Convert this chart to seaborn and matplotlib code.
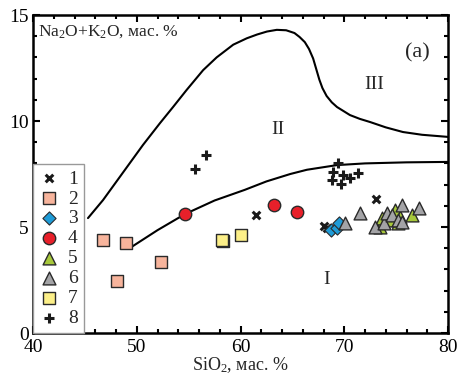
import matplotlib
matplotlib.use("Agg")
import matplotlib.pyplot as plt
import matplotlib.transforms as mtransforms
import seaborn as sns
import numpy as np
from matplotlib.ticker import MultipleLocator

# ---------------- data ----------------
s1_x = [61.5, 73.1, 68.3, 68.0]
s1_y = [5.57, 6.30, 4.95, 5.05]
s2_x = [46.75, 48.96, 48.1, 52.3]
s2_y = [4.39, 4.25, 2.45, 3.35]
s3_x = [68.7, 69.3, 69.5]
s3_y = [4.86, 4.95, 5.19]
s4_x = [54.65, 63.2, 65.45]
s4_y = [5.61, 6.04, 5.70]
s5_x = [73.4, 73.6, 74.9, 75.4, 75.2, 76.5, 74.4]
s5_y = [5.00, 5.42, 5.80, 5.47, 5.19, 5.57, 5.35]
s6_x = [70.1, 71.5, 73.0, 73.8, 74.1, 74.6, 75.2, 75.6, 75.6, 77.2]
s6_y = [5.19, 5.64, 5.00, 5.19, 5.64, 5.57, 5.33, 5.24, 6.04, 5.90]
s7_x = [58.3, 58.2, 60.05]
s7_y = [4.36, 4.39, 4.62]
s8_x = [55.6, 56.7, 69.4, 68.9, 69.9, 71.3, 68.8, 70.6, 69.7]
s8_y = [7.74, 8.40, 8.00, 7.60, 7.45, 7.55, 7.20, 7.30, 7.03]

upper_x = [45.3, 46.75, 49.06, 50.6, 52.24, 53.5, 54.8, 56.4, 57.7, 59.3, 60.6,
           61.6, 62.55, 63.5, 64.4, 65.2, 65.7, 66.2, 66.6, 67.0, 67.3, 67.6,
           67.9, 68.3, 68.8, 69.3, 70.55, 71.5, 72.5, 74.0, 75.66, 77.5, 80.0]
upper_y = [5.42, 6.27, 7.83, 8.87, 9.90, 10.66, 11.46, 12.40, 13.00, 13.60, 13.90,
           14.08, 14.22, 14.30, 14.28, 14.15, 13.96, 13.72, 13.40, 12.95, 12.45, 11.95,
           11.55, 11.18, 10.88, 10.66, 10.28, 10.10, 9.95, 9.70, 9.48, 9.35, 9.25]
lower_x = [49.5, 52.0, 54.65, 57.5, 60.4, 62.5, 64.8, 66.4, 69.3, 72.0, 76.0, 80.0]
lower_y = [4.06, 4.85, 5.61, 6.25, 6.75, 7.15, 7.50, 7.70, 7.92, 8.00, 8.05, 8.07]

legend_labels = ["1", "2", "3", "4", "5", "6", "7", "8"]
field_labels = ["I", "II", "III"]
field_x = [68.3, 63.6, 72.9]
field_y = [2.5, 9.6, 11.7]

# ---------------- style ----------------
sns.set_style("ticks")
plt.rcParams["font.family"] = ["Liberation Serif", "DejaVu Serif"]
plt.rcParams["mathtext.fontset"] = "custom"
plt.rcParams["mathtext.rm"] = "Liberation Serif"
plt.rcParams["mathtext.it"] = "Liberation Serif:italic"

fig = plt.figure(figsize=(4.58, 3.82), dpi=100)
ax = fig.add_axes([33/458, 1-333/382, 415/458, 318/382])

edge = "#2a2a2a"
for cx, cy in ((upper_x, upper_y), (lower_x, lower_y)):
    sns.lineplot(x=cx, y=cy, sort=False, estimator=None, color="black", lw=1.5, ax=ax,
                 solid_joinstyle="round", solid_capstyle="round")

common = dict(ax=ax, zorder=3)
sns.scatterplot(x=s1_x, y=s1_y, marker="x", s=30, color="#1a1a1a", linewidth=2.2, label=legend_labels[0], **common)
sns.scatterplot(x=s2_x, y=s2_y, marker="s", s=70, color="#F7B49C", edgecolor=edge, linewidth=1.0, label=legend_labels[1], **common)
sns.scatterplot(x=s3_x, y=s3_y, marker="D", s=45, color="#1E9BD7", edgecolor=edge, linewidth=0.8, label=legend_labels[2], **common)
sns.scatterplot(x=s4_x, y=s4_y, marker="o", s=80, color="#E8202A", edgecolor=edge, linewidth=1.0, label=legend_labels[3], **common)
sns.scatterplot(x=s5_x, y=s5_y, marker="^", s=85, color="#A7C83B", edgecolor=edge, linewidth=1.0, label=legend_labels[4], **common)
sns.scatterplot(x=s6_x, y=s6_y, marker="^", s=85, color="#A3A3A6", edgecolor=edge, linewidth=1.0, label=legend_labels[5], **common)
sns.scatterplot(x=s7_x, y=s7_y, marker="s", s=70, color="#FCEF88", edgecolor=edge, linewidth=1.0, label=legend_labels[6], **common)
sns.scatterplot(x=s8_x, y=s8_y, marker="+", s=55, color="#1a1a1a", linewidth=2.2, label=legend_labels[7], **common)

ax.set_xlim(40, 80)
ax.set_ylim(0, 15)
ax.xaxis.set_major_locator(MultipleLocator(10))
ax.xaxis.set_minor_locator(MultipleLocator(2))
ax.yaxis.set_major_locator(MultipleLocator(5))
ax.yaxis.set_minor_locator(MultipleLocator(1))
ax.tick_params(which="both", direction="in", top=True, right=True, width=1.5, colors="black", labelsize=14)
ax.tick_params(which="major", length=5)
ax.tick_params(which="minor", length=3)
ax.tick_params(axis="x", which="major", pad=4)
ax.tick_params(axis="y", which="major", pad=3)
for sp in ax.spines.values():
    sp.set_linewidth(1.8)
    sp.set_color("black")

ax.set_xlabel("SiO$_2$, мас. %", fontsize=13, labelpad=0)
ax.set_ylabel("")

ax.text(0.012, 0.975, "Na$_2$O+K$_2$O, мас. %", transform=ax.transAxes, fontsize=12.5, va="top", ha="left")
ax.text(0.955, 0.88, "(a)", transform=ax.transAxes, fontsize=16, va="center", ha="right")
for lab, fx, fy in zip(field_labels, field_x, field_y):
    ax.text(fx, fy, lab, fontsize=14, ha="center", va="center")

leg = ax.legend(loc="lower left", bbox_to_anchor=(0, 0), borderaxespad=0, fontsize=14,
                frameon=True, fancybox=False, edgecolor="#999999", framealpha=1,
                handlelength=1.0, handletextpad=0.5, borderpad=0.3, labelspacing=0.12)
leg.get_frame().set_linewidth(1.0)

# nudge the "0" y tick label up slightly so it clears the "40" x tick label
fig.canvas.draw()
first = ax.yaxis.get_major_ticks()[0].label1
first.set_transform(first.get_transform() + mtransforms.ScaledTranslation(0, 3/100, fig.dpi_scale_trans))

fig.savefig("out.png", dpi=100)
